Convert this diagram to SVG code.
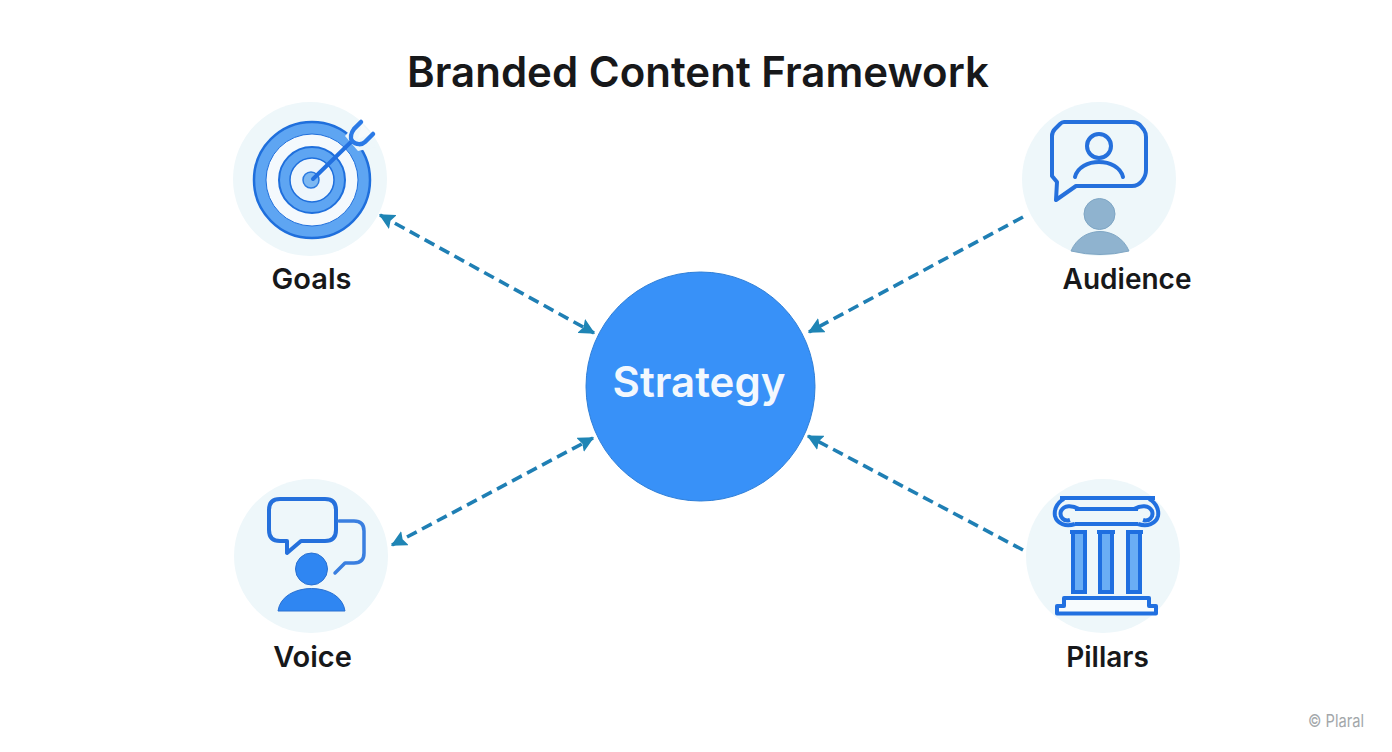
<svg xmlns="http://www.w3.org/2000/svg" width="1392" height="752" viewBox="0 0 1392 752">
<style>
.t{font-family:Inter,"Liberation Sans",sans-serif;font-weight:600;fill:#17181a;text-anchor:middle}
.l{font-size:28px}
.bg{fill:#eef7fa}
.o{fill:none;stroke:#2570dc;stroke-width:4;stroke-linejoin:round;stroke-linecap:round}
.r{fill:#5ea5f2;stroke:#1f6fdc;stroke-width:2}
.p{fill:#6aaef5;stroke:#1f6fe0;stroke-width:4}
.s{fill:none;stroke:#2170e0;stroke-width:4}
.c{fill:none;stroke:#1f7fb4;stroke-width:3.600;stroke-dasharray:11 6}
</style>
<defs>
<marker id="b" viewBox="0 0 12 12" refX="11" refY="6" markerWidth="16" markerHeight="16" markerUnits="userSpaceOnUse" orient="auto-start-reverse"><path d="M0 0L12 6L0 12L2 6Z" fill="#1f85b5"/></marker>
</defs>
<rect width="1392" height="752" fill="#fff"/>
<text class="t" x="698" y="87" font-size="42">Branded Content Framework</text>
<g id="connectors">
<path class="c" d="M380 215L594 333" marker-start="url(#b)" marker-end="url(#b)"/>
<path class="c" d="M1023 217L809 332" marker-end="url(#b)"/>
<path class="c" d="M392 545L593 438" marker-start="url(#b)" marker-end="url(#b)"/>
<path class="c" d="M1023 550L808 436" marker-end="url(#b)"/>
</g>
<g id="strategy">
<circle cx="700.500" cy="386.500" r="114.500" fill="#3891f8" stroke="#2f7fd8" stroke-width="1"/>
<text class="t" x="699" y="397" font-size="42" style="fill:#f3f8fe">Strategy</text>
</g>
<g id="goals">
<circle class="bg" cx="310" cy="179" r="77"/>
<circle cx="312" cy="180" r="58" fill="#5ea5f2" stroke="#1f6fdc" stroke-width="2.500"/>
<circle cx="312" cy="180" r="46" fill="#f4f9fd" stroke="#1f6fdc" stroke-width="1"/>
<circle class="r" cx="312" cy="180" r="33"/>
<circle cx="312" cy="180" r="22" fill="#eef6fc" stroke="#1f6fdc" stroke-width="1.500"/>
<circle cx="311" cy="180" r="8" fill="#7db8f2" stroke="#2b7ae0" stroke-width="1.500"/>
<path d="M345 136L352 128L376 147L358 151Z" fill="#eef7fa"/>
<path d="M313 179L352 141" fill="none" stroke="#2270e0" stroke-width="4" stroke-linecap="round"/>
<path d="M362 124L371 134L358 139Z" fill="#f6fafc"/>
<path d="M361 122L354 129C351 133 350 138 352 141C356 145 362 145 365 142L373 134" fill="none" stroke="#2b7ae6" stroke-width="4.500" stroke-linecap="round"/>
<text class="t" x="311.500" y="289" font-size="29">Goals</text>
</g>
<g id="audience">
<circle class="bg" cx="1099" cy="179" r="77"/>
<path class="o" d="M1064 122H1132Q1137 122 1140 125L1144 130Q1146 133 1146 137V170Q1146 176 1142 181Q1138 186 1132 186H1076L1056 200L1057 182L1052 176V136Q1052 132 1055 129L1060 124Q1062 122 1064 122Z"/>
<circle class="o" cx="1099" cy="146" r="12"/>
<path class="o" d="M1075 177C1080 157 1118 157 1123 177"/>
<circle cx="1099.500" cy="214" r="15.500" fill="#8fb3cf" stroke="#7fa6c4"/>
<path d="M1071 251C1082 225 1118 225 1129 251Q1100 258 1071 251Z" fill="#8fb3cf" stroke="#7fa6c4"/>
<text class="t l" x="1127" y="289">Audience</text>
</g>
<g id="voice">
<circle class="bg" cx="311" cy="556" r="77"/>
<path class="o" d="M280 499H325Q336 499 336 510V530Q336 541 325 541H301L287 553V541H280Q269 541 269 530V510Q269 499 280 499Z"/>
<path class="o" d="M339 521H354Q364 521 364 531V553Q364 563 354 563H345L335 573" style="stroke:#3a7fe0;stroke-width:3.500"/>
<circle cx="311.500" cy="569" r="16" fill="#2f86f2" stroke="#2a70d0"/>
<path d="M278 611C282 581 341 581 345 611Z" fill="#2f86f2" stroke="#2a70d0"/>
<text class="t" x="312.500" y="667" font-size="29">Voice</text>
</g>
<g id="pillars">
<circle class="bg" cx="1103" cy="556" r="77"/>
<path class="s" d="M1060 498H1155"/>
<path class="s" d="M1075 509H1138M1075 524H1138"/>
<path class="s" d="M1064 499C1056 503 1054 511 1055 516C1057 524 1066 527 1075 524M1079 509C1072 505 1064 505 1061 511C1059 517 1064 522 1070 520"/>
<path class="s" d="M1149 499C1157 503 1159 511 1158 516C1156 524 1147 527 1138 524M1134 509C1141 505 1149 505 1152 511C1154 517 1149 522 1143 520"/>
<path class="s" d="M1070 532H1087M1097 532H1115M1126 532H1143"/>
<rect class="p" x="1073" y="532" width="12" height="60"/>
<rect class="p" x="1100" y="532" width="12" height="60"/>
<rect class="p" x="1128" y="532" width="12" height="60"/>
<path d="M1064 598H1149V606H1156V613.500H1057V606H1064Z" fill="#f7fbfd" stroke="#2170e0" stroke-width="4" stroke-linejoin="round"/>
<text class="t l" x="1107.500" y="667">Pillars</text>
</g>
<text x="1336" y="727" font-family="Inter,'Liberation Sans',sans-serif" font-size="17" fill="#a3a7aa" text-anchor="middle" textLength="56" lengthAdjust="spacingAndGlyphs">© Plaral</text>
</svg>
